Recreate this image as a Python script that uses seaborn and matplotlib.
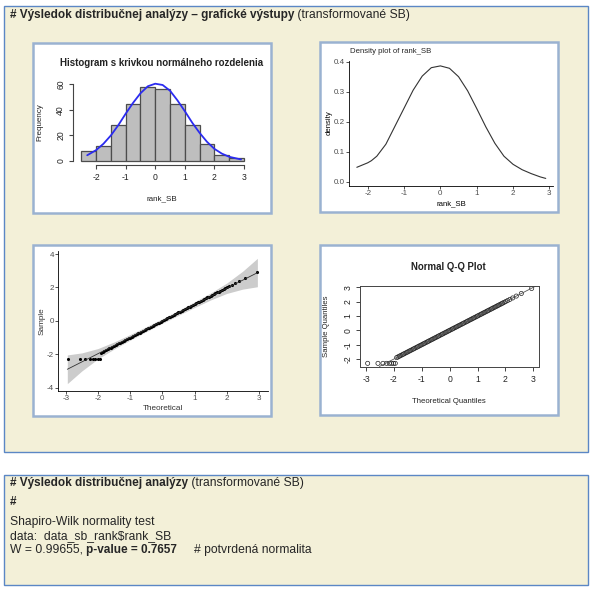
import matplotlib
matplotlib.use("Agg")
import numpy as np
import pandas as pd
import matplotlib.pyplot as plt
from matplotlib.patches import Rectangle
import seaborn as sns

# histogram of rank_SB (bins and counts)
hist_edges = [-2.5, -2.0, -1.5, -1.0, -0.5, 0.0, 0.5, 1.0, 1.5, 2.0, 2.5, 3.0]
hist_counts = [8, 12, 28, 45, 58, 56, 45, 28, 13, 5, 2]

# blue normal curve over the histogram
curve_x = [-2.3, -2.0, -1.75, -1.5, -1.25, -1.0, -0.75, -0.5, -0.25, 0.0, 0.25,
           0.5, 0.75, 1.0, 1.25, 1.5, 1.75, 2.0, 2.25, 2.5, 2.9]
curve_y = [4.5, 8.5, 13.5, 20.0, 28.0, 37.0, 45.5, 53.0, 58.5, 60.5, 59.5,
           55.0, 47.5, 39.0, 30.0, 22.0, 15.0, 9.5, 5.8, 3.3, 1.2]

# density plot of rank_SB
dens_x = [-2.3, -2.1, -2.0, -1.9, -1.75, -1.5, -1.25, -1.0, -0.75, -0.5, -0.25, 0.0,
          0.25, 0.5, 0.75, 1.0, 1.25, 1.5, 1.75, 2.0, 2.25, 2.5, 2.75, 2.9]
dens_y = [0.048, 0.058, 0.063, 0.070, 0.085, 0.125, 0.185, 0.245, 0.305, 0.352, 0.380, 0.386,
          0.378, 0.350, 0.303, 0.244, 0.183, 0.128, 0.085, 0.058, 0.040, 0.027, 0.016, 0.011]

# Q-Q points (theoretical quantile, sample value)
qq_theoretical = [
    -2.94, -2.57, -2.39, -2.26, -2.16, -2.08, -2.01, -1.95,
    -1.90, -1.85, -1.80, -1.75, -1.70, -1.65, -1.60, -1.55, -1.50, -1.45,
    -1.40, -1.35, -1.30, -1.25, -1.20, -1.15, -1.10, -1.05, -1.00, -0.95,
    -0.90, -0.85, -0.80, -0.75, -0.70, -0.65, -0.60, -0.55, -0.50, -0.45,
    -0.40, -0.35, -0.30, -0.25, -0.20, -0.15, -0.10, -0.05, 0.00, 0.05,
    0.10, 0.15, 0.20, 0.25, 0.30, 0.35, 0.40, 0.45, 0.50, 0.55,
    0.60, 0.65, 0.70, 0.75, 0.80, 0.85, 0.90, 0.95, 1.00, 1.05,
    1.10, 1.15, 1.20, 1.25, 1.30, 1.35, 1.40, 1.45, 1.50, 1.55,
    1.60, 1.65, 1.70, 1.75, 1.80, 1.85, 1.90, 1.95,
    2.01, 2.08, 2.16, 2.26, 2.39, 2.57, 2.94,
]
qq_sample = [
    -2.30, -2.30, -2.30, -2.30, -2.30, -2.30, -2.30, -2.30,
    -1.90, -1.85, -1.80, -1.75, -1.70, -1.65, -1.60, -1.55, -1.50, -1.45,
    -1.40, -1.35, -1.30, -1.25, -1.20, -1.15, -1.10, -1.05, -1.00, -0.95,
    -0.90, -0.85, -0.80, -0.75, -0.70, -0.65, -0.60, -0.55, -0.50, -0.45,
    -0.40, -0.35, -0.30, -0.25, -0.20, -0.15, -0.10, -0.05, 0.00, 0.05,
    0.10, 0.15, 0.20, 0.25, 0.30, 0.35, 0.40, 0.45, 0.50, 0.55,
    0.60, 0.65, 0.70, 0.75, 0.80, 0.85, 0.90, 0.95, 1.00, 1.05,
    1.10, 1.15, 1.20, 1.25, 1.30, 1.35, 1.40, 1.45, 1.50, 1.55,
    1.60, 1.65, 1.70, 1.75, 1.80, 1.85, 1.90, 1.95,
    2.01, 2.08, 2.16, 2.26, 2.39, 2.57, 2.92,
]

# confidence band and reference line of the ggplot-style Q-Q plot
band_x = [-2.95, -2.5, -2.0, -1.5, -1.0, -0.5, 0.0, 0.5, 1.0, 1.5, 2.0, 2.5, 2.95]
band_lower = [-3.76, -3.00, -2.28, -1.69, -1.16, -0.65, -0.15, 0.33, 0.80, 1.25, 1.64, 1.90, 2.04]
band_upper = [-2.04, -1.92, -1.66, -1.27, -0.82, -0.35, 0.13, 0.63, 1.14, 1.67, 2.26, 2.98, 3.74]
ref_x = [-2.95, 2.95]
ref_y = [-2.90, 2.88]
qqline_intercept = 0.0
qqline_slope = 1.0

header_bold = "# Výsledok distribučnej analýzy – grafické výstupy"
header_rest = " (transformované SB)"
result_bold = "# Výsledok distribučnej analýzy"
test_name = "Shapiro-Wilk normality test"
test_data = "data:  data_sb_rank$rank_SB"
test_w = "W = 0.99655, "
test_p = "p-value = 0.7657"
test_note = "# potvrdená normalita"

qq_df = pd.DataFrame({"theoretical": qq_theoretical, "sample": qq_sample})
hist_mids = [(a + b) / 2 for a, b in zip(hist_edges[:-1], hist_edges[1:])]

sns.set_theme(style="white")
plt.rcParams["font.family"] = ["Liberation Sans", "DejaVu Sans"]
plt.rcParams["axes.unicode_minus"] = False

W, H = 595, 591
fig = plt.figure(figsize=(W / 100, H / 100), dpi=100)
bg = fig.add_axes([0, 0, 1, 1])
bg.set_xlim(0, W)
bg.set_ylim(H, 0)
bg.axis("off")

cream = "#F3F0D8"
box_edge = "#5B87C5"
frame_edge = "#9AB2D1"

bg.add_patch(Rectangle((4, 6), 584, 446, facecolor=cream, edgecolor=box_edge, lw=1))
bg.add_patch(Rectangle((4, 475), 584, 110, facecolor=cream, edgecolor=box_edge, lw=1))
for x0, y0, x1, y1 in [(33, 43, 271, 213), (320, 42, 558, 212),
                       (33, 245, 271, 416), (320, 245, 558, 415)]:
    bg.add_patch(Rectangle((x0, y0), x1 - x0, y1 - y0, facecolor="white",
                           edgecolor=frame_edge, lw=1.8))


def panel_axes(x0, y0, x1, y1):
    ax = fig.add_axes([x0 / W, 1 - y1 / H, (x1 - x0) / W, (y1 - y0) / H])
    ax.patch.set_alpha(0)
    return ax


def place_labels(ax, xl, xpos, yl, ypos, size, color="#222222"):
    ax.set_xlabel(xl, fontsize=size, color=color)
    ax.set_ylabel(yl, fontsize=size, color=color)
    ax.xaxis.set_label_coords(*xpos, transform=bg.transData)
    ax.yaxis.set_label_coords(*ypos, transform=bg.transData)
    for lab in (ax.xaxis.label, ax.yaxis.label):
        lab.set_va("center")
        lab.set_ha("center")


# --- panel 1: histogram with normal curve (R base style)
ax1 = panel_axes(73.3, 80, 250.5, 165)
sns.histplot(x=hist_mids, weights=hist_counts, bins=hist_edges, ax=ax1,
             color="#BEBEBE", edgecolor="#4D4D4D", linewidth=0.9, alpha=1)
sns.lineplot(x=curve_x, y=curve_y, ax=ax1, color="#2B2BF0", lw=1.3)
ax1.set_xlim(-2.77, 3.22)
ax1.set_ylim(-3.13, 63.4)
ax1.set_xticks([-2, -1, 0, 1, 2, 3])
ax1.set_yticks([0, 20, 40, 60])
for s in ["top", "right"]:
    ax1.spines[s].set_visible(False)
ax1.spines["left"].set_bounds(0, 60)
ax1.spines["bottom"].set_bounds(-2, 3)
for s in ["left", "bottom"]:
    ax1.spines[s].set_color("#444444")
    ax1.spines[s].set_linewidth(0.8)
ax1.tick_params(direction="out", length=3, width=0.8, color="#444444",
                labelsize=6.2, pad=2.8, left=True, bottom=True, labelcolor="#222222")
for lab in ax1.get_yticklabels():
    lab.set_rotation(90)
    lab.set_va("center")
place_labels(ax1, "rank_SB", (161.7, 199), "Frequency", (40, 122.5), 5.8)
bg.text(161.7, 63, "Histogram s krivkou normálneho rozdelenia", fontsize=7,
        fontweight="bold", ha="center", va="center", color="#222222")

# --- panel 2: density plot (ggplot classic style)
ax2 = panel_axes(349.3, 61, 553, 185.7)
sns.lineplot(x=dens_x, y=dens_y, ax=ax2, color="#333333", lw=0.8)
ax2.set_xlim(-2.507, 3.10)
ax2.set_ylim(-0.0133, 0.4023)
ax2.set_xticks([-2, -1, 0, 1, 2, 3])
ax2.set_yticks([0.0, 0.1, 0.2, 0.3, 0.4])
ax2.set_yticklabels(["0.0", "0.1", "0.2", "0.3", "0.4"])
for s in ["top", "right"]:
    ax2.spines[s].set_visible(False)
for s in ["left", "bottom"]:
    ax2.spines[s].set_color("black")
    ax2.spines[s].set_linewidth(0.6)
ax2.tick_params(direction="out", length=2, width=0.6, color="#333333",
                labelsize=5.8, pad=1.2, left=True, bottom=True, labelcolor="#4D4D4D")
place_labels(ax2, "rank_SB", (451, 204), "density", (329, 123), 5.6, "black")
bg.text(350, 51.7, "Density plot of rank_SB", fontsize=5.6, ha="left", va="center")

# --- panel 3: ggplot-style Q-Q plot with confidence band
ax3 = panel_axes(58.3, 251, 268, 391)
ax3.fill_between(band_x, band_lower, band_upper, color="#CCCCCC", lw=0)
sns.lineplot(x=ref_x, y=ref_y, ax=ax3, color="#333333", lw=0.6)
sns.scatterplot(data=qq_df, x="theoretical", y="sample", ax=ax3,
                color="black", s=5, linewidth=0)
ax3.set_xlim(-3.23, 3.28)
ax3.set_ylim(-4.2, 4.18)
ax3.set_xticks([-3, -2, -1, 0, 1, 2, 3])
ax3.set_yticks([-4, -2, 0, 2, 4])
for s in ["top", "right"]:
    ax3.spines[s].set_visible(False)
for s in ["left", "bottom"]:
    ax3.spines[s].set_color("black")
    ax3.spines[s].set_linewidth(0.6)
ax3.tick_params(direction="out", length=2, width=0.6, color="#333333",
                labelsize=5.8, pad=1.0, left=True, bottom=True, labelcolor="#4D4D4D")
place_labels(ax3, "Theoretical", (163, 408.2), "Sample", (41.7, 321), 5.9, "#333333")

# --- panel 4: R base normal Q-Q plot
ax4 = panel_axes(360.4, 285.9, 538.9, 366.5)
ax4.axline((0, qqline_intercept), slope=qqline_slope, color="#555555", lw=0.6)
sns.scatterplot(data=qq_df, x="theoretical", y="sample", ax=ax4, marker="o",
                facecolor="none", edgecolor="#222222", s=9, linewidth=0.5)
ax4.set_xlim(-3.2, 3.2)
ax4.set_ylim(-2.52, 3.1)
ax4.set_xticks([-3, -2, -1, 0, 1, 2, 3])
ax4.set_yticks([-2, -1, 0, 1, 2, 3])
for s in ax4.spines.values():
    s.set_visible(True)
    s.set_color("#444444")
    s.set_linewidth(0.7)
ax4.tick_params(direction="out", length=3, width=0.7, color="#444444",
                labelsize=6.2, pad=2.8, left=True, bottom=True, labelcolor="#222222")
for lab in ax4.get_yticklabels():
    lab.set_rotation(90)
    lab.set_va("center")
place_labels(ax4, "Theoretical Quantiles", (448.5, 401.7), "Sample Quantiles", (326, 326.5), 5.6)
bg.text(448.5, 267, "Normal Q-Q Plot", fontsize=6.9, fontweight="bold",
        ha="center", va="center", color="#222222")

# --- header and result texts
fs = 8.7
fb = 8.45
t = bg.text(10, 15, header_bold, fontsize=fb, fontweight="bold", ha="left", va="center")
bg.annotate(header_rest, xy=(1, 0), xycoords=t, fontsize=fs, ha="left", va="bottom")

t = bg.text(10, 483.3, result_bold, fontsize=fb, fontweight="bold", ha="left", va="center")
bg.annotate(header_rest, xy=(1, 0), xycoords=t, fontsize=fs, ha="left", va="bottom")
bg.text(10, 501.7, "#", fontsize=fb, fontweight="bold", ha="left", va="center")
bg.text(10, 521.7, test_name, fontsize=fs, ha="left", va="center")
bg.text(10, 536, test_data, fontsize=fs, ha="left", va="center", parse_math=False)
t = bg.text(10, 550, test_w, fontsize=fs, ha="left", va="center")
bg.annotate(test_p, xy=(1, 0), xycoords=t, fontsize=fb, fontweight="bold", ha="left", va="bottom")
bg.text(194.3, 550, test_note, fontsize=fs, ha="left", va="center")

fig.savefig("out.png", dpi=100)
